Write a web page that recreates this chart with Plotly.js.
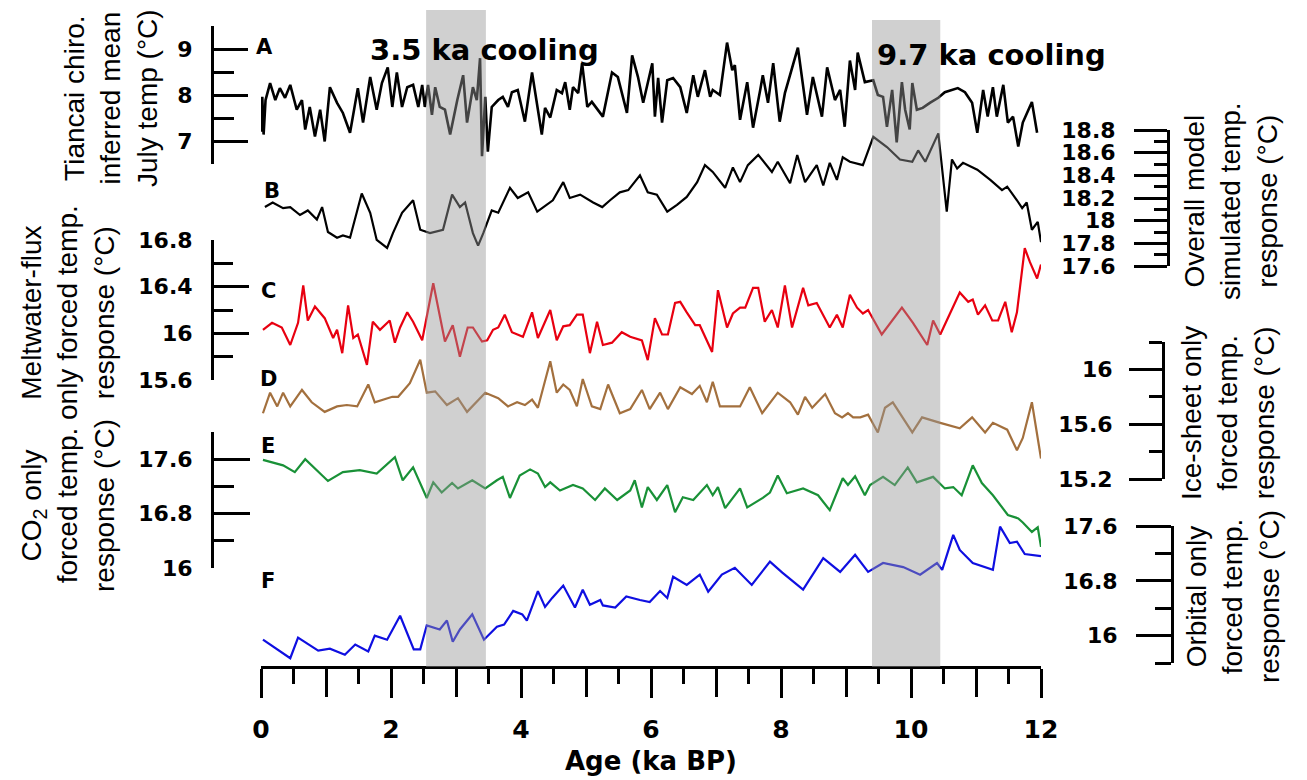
<!DOCTYPE html>
<html><head><meta charset="utf-8">
<script src="https://cdn.plot.ly/plotly-3.0.1.min.js"></script>
<style>html,body{margin:0;padding:0;background:#fff}#chart{width:1307px;height:780px}</style>
</head><body><div id="chart"></div>
<script>
// ---- Data (age in ka BP, temperature in °C) ----
const ageA = [0.00,0.02,0.04,0.07,0.14,0.22,0.29,0.37,0.45,0.55,0.63,0.68,0.75,0.83,0.91,0.98,1.06,1.17,1.26,1.37,1.49,1.57,1.68,1.78,1.86,1.95,2.02,2.09,2.17,2.25,2.34,2.42,2.48,2.52,2.57,2.63,2.68,2.75,2.83,2.91,3.02,3.11,3.17,3.26,3.32,3.37,3.40,3.45,3.49,3.55,3.65,3.72,3.80,3.86,3.95,4.06,4.17,4.25,4.32,4.37,4.45,4.55,4.63,4.68,4.75,4.80,4.88,4.94,5.02,5.09,5.26,5.40,5.49,5.63,5.71,5.80,5.88,6.02,6.06,6.11,6.17,6.25,6.34,6.45,6.55,6.65,6.72,6.83,6.91,6.95,7.06,7.17,7.25,7.29,7.37,7.48,7.57,7.68,7.72,7.80,7.88,7.98,8.06,8.26,8.40,8.49,8.63,8.71,8.83,8.91,8.98,9.06,9.14,9.18,9.29,9.42,9.49,9.57,9.63,9.71,9.78,9.86,9.91,9.98,10.02,10.09,10.18,10.29,10.42,10.52,10.63,10.72,10.83,10.94,11.02,11.11,11.18,11.26,11.32,11.42,11.49,11.57,11.65,11.72,11.86,11.94];
const tempA = [7.20,7.96,7.14,7.89,8.26,7.89,8.15,7.94,8.22,7.68,7.89,7.25,7.74,7.10,7.68,6.99,8.17,7.83,7.61,7.18,8.15,7.40,8.39,7.68,8.26,8.60,7.74,8.49,7.74,8.17,8.22,7.74,8.22,7.74,8.22,7.57,8.17,7.74,7.68,7.14,7.89,8.43,7.40,8.17,7.89,8.80,6.67,7.96,6.77,7.74,7.89,7.96,7.74,8.06,8.11,7.42,8.49,7.74,7.14,7.72,7.51,8.11,8.04,8.28,7.68,8.17,8.04,8.69,7.74,7.85,7.53,8.49,8.39,7.61,8.86,8.39,7.83,8.69,7.53,8.37,7.40,8.32,8.37,8.17,7.61,8.43,7.96,8.54,7.96,8.11,8.00,9.14,8.54,8.65,7.46,8.28,7.29,8.11,8.43,7.83,8.69,7.42,8.04,9.03,7.57,8.39,7.53,8.60,7.89,8.11,7.31,8.75,8.11,8.92,8.28,8.32,8.00,7.96,7.31,8.11,6.97,8.28,7.68,7.25,8.26,7.68,7.72,7.83,7.94,8.06,8.11,8.15,8.06,7.83,7.18,8.11,7.53,8.17,7.53,8.22,7.40,7.53,6.88,7.40,7.85,7.18];

const ageB = [0.06,0.18,0.34,0.45,0.60,0.72,0.86,0.94,1.03,1.17,1.26,1.37,1.55,1.68,1.78,1.94,2.03,2.17,2.34,2.45,2.60,2.80,2.94,3.06,3.14,3.26,3.34,3.42,3.55,3.65,3.83,3.95,4.11,4.25,4.49,4.65,4.75,4.91,5.11,5.25,5.37,5.52,5.65,5.83,5.95,6.09,6.25,6.40,6.55,6.71,6.83,6.95,7.14,7.26,7.37,7.49,7.65,7.86,7.95,8.14,8.25,8.37,8.55,8.65,8.75,8.86,8.95,9.06,9.26,9.42,9.63,9.83,10.02,10.11,10.22,10.42,10.55,10.63,10.71,10.80,11.02,11.22,11.40,11.48,11.63,11.71,11.78,11.86,11.95,12.00];
const tempB = [18.12,18.16,18.11,18.12,18.05,18.09,18.01,18.12,17.90,17.85,17.87,17.85,18.24,18.07,17.83,17.76,17.89,18.07,18.18,17.92,17.89,17.92,18.23,18.12,18.16,17.89,17.78,17.89,18.09,18.07,18.29,18.20,18.25,18.08,18.18,18.34,18.20,18.23,18.16,18.12,18.18,18.25,18.27,18.40,18.25,18.23,18.08,18.14,18.21,18.34,18.49,18.43,18.29,18.47,18.34,18.49,18.58,18.43,18.52,18.33,18.58,18.34,18.49,18.31,18.51,18.36,18.56,18.52,18.49,18.74,18.65,18.54,18.52,18.62,18.52,18.77,18.08,18.54,18.46,18.51,18.45,18.36,18.27,18.30,18.18,18.11,18.16,17.92,17.99,17.81];

const ageC = [0.03,0.17,0.32,0.45,0.57,0.65,0.72,0.83,0.98,1.11,1.17,1.25,1.34,1.42,1.49,1.63,1.72,1.83,1.98,2.06,2.14,2.25,2.34,2.48,2.65,2.83,2.95,3.06,3.18,3.26,3.40,3.48,3.57,3.65,3.75,3.86,4.03,4.17,4.26,4.45,4.55,4.65,4.75,4.86,4.95,5.06,5.17,5.26,5.40,5.55,5.68,5.86,5.95,6.06,6.17,6.26,6.37,6.45,6.55,6.68,6.75,6.94,7.03,7.17,7.26,7.37,7.45,7.57,7.65,7.75,7.86,7.95,8.06,8.17,8.34,8.42,8.55,8.75,8.86,8.95,9.06,9.17,9.26,9.34,9.55,9.86,10.03,10.25,10.34,10.45,10.75,10.88,10.95,11.03,11.14,11.25,11.34,11.45,11.55,11.63,11.75,11.83,11.94,12.00];
const tempC = [16.03,16.09,16.05,15.90,16.09,16.41,16.11,16.23,16.13,15.96,16.03,15.83,16.24,15.96,15.99,15.73,16.10,16.03,16.11,15.92,16.05,16.18,16.10,15.94,16.43,15.93,16.07,15.80,16.05,16.05,15.93,15.94,16.03,16.05,16.16,16.01,15.97,16.18,15.96,16.20,15.94,16.06,16.07,16.16,16.16,15.83,16.10,15.90,15.92,16.01,15.97,15.94,15.77,16.13,15.99,15.99,16.26,16.27,16.18,16.07,16.07,15.84,16.37,16.05,16.17,16.22,16.22,16.39,16.39,16.10,16.20,16.05,16.41,16.05,16.39,16.24,16.26,16.05,16.16,16.05,16.33,16.22,16.17,16.20,15.99,16.22,16.09,15.90,16.11,15.99,16.35,16.27,16.29,16.16,16.24,16.11,16.11,16.27,16.01,16.18,16.73,16.61,16.47,16.59];

const ageD = [0.03,0.14,0.25,0.34,0.45,0.63,0.78,0.98,1.17,1.32,1.48,1.65,1.75,2.02,2.11,2.29,2.45,2.55,2.68,2.86,3.03,3.17,3.45,3.65,3.80,3.94,4.06,4.17,4.26,4.45,4.55,4.65,4.75,4.86,4.95,5.09,5.22,5.34,5.52,5.68,5.86,5.98,6.14,6.26,6.45,6.63,6.75,6.86,6.95,7.06,7.37,7.52,7.71,7.95,8.14,8.26,8.37,8.48,8.68,8.83,8.94,9.03,9.11,9.22,9.34,9.49,9.60,9.72,10.02,10.17,10.45,10.75,10.94,11.14,11.26,11.48,11.63,11.72,11.86,12.00];
const tempD = [15.68,15.83,15.73,15.83,15.73,15.85,15.76,15.69,15.73,15.74,15.73,15.89,15.76,15.80,15.80,15.90,16.07,15.83,15.84,15.74,15.79,15.69,15.83,15.79,15.73,15.76,15.74,15.78,15.72,16.06,15.83,15.89,15.85,15.73,15.93,15.73,15.71,15.89,15.68,15.71,15.85,15.71,15.83,15.71,15.87,15.82,15.88,15.76,15.91,15.73,15.73,15.87,15.68,15.83,15.76,15.67,15.80,15.72,15.82,15.68,15.65,15.68,15.65,15.65,15.67,15.54,15.72,15.76,15.54,15.65,15.61,15.57,15.65,15.54,15.61,15.56,15.41,15.50,15.76,15.35];

const ageE = [0.03,0.34,0.52,0.68,1.03,1.26,1.52,1.78,2.06,2.18,2.34,2.55,2.65,2.78,2.94,3.03,3.25,3.45,3.63,3.72,3.83,3.98,4.14,4.26,4.37,4.45,4.60,4.80,4.95,5.14,5.29,5.48,5.68,5.75,5.86,5.95,6.09,6.25,6.37,6.49,6.65,6.86,6.95,7.03,7.14,7.37,7.48,7.72,7.83,7.95,8.09,8.34,8.57,8.75,8.95,9.03,9.14,9.29,9.37,9.57,9.75,9.95,10.09,10.34,10.52,10.65,10.78,10.95,11.09,11.26,11.49,11.65,11.72,11.86,11.95,12.00];
const tempE = [17.59,17.51,17.41,17.60,17.28,17.41,17.44,17.39,17.63,17.29,17.48,17.03,17.26,17.11,17.25,17.17,17.29,17.17,17.29,17.34,17.03,17.36,17.45,17.39,17.19,17.26,17.14,17.22,17.17,17.00,17.17,17.00,17.14,17.29,16.89,17.19,17.00,17.22,16.82,17.04,17.00,17.22,17.07,17.19,16.88,17.17,16.89,17.03,17.11,17.36,17.10,17.17,17.07,16.85,17.32,17.22,17.35,17.07,17.22,17.34,17.22,17.48,17.26,17.34,17.17,17.19,17.07,17.51,17.25,17.07,16.78,16.73,16.67,16.53,16.60,16.31];

const ageF = [0.03,0.45,0.57,0.88,1.06,1.29,1.45,1.65,1.75,1.94,2.14,2.35,2.45,2.55,2.75,2.86,2.95,3.06,3.25,3.43,3.63,3.74,3.88,4.02,4.09,4.26,4.37,4.48,4.65,4.83,4.95,5.06,5.22,5.26,5.45,5.62,5.83,5.98,6.14,6.25,6.34,6.55,6.75,6.88,7.09,7.29,7.55,7.83,8.02,8.34,8.65,8.91,9.14,9.34,9.57,9.88,10.14,10.40,10.48,10.65,10.75,10.95,11.26,11.37,11.52,11.63,11.75,12.00];
const tempF = [15.94,15.67,15.97,15.78,15.81,15.72,15.87,15.77,16.00,15.94,16.29,15.80,15.80,16.15,16.09,16.22,15.91,16.09,16.31,15.94,16.13,16.16,16.36,16.31,16.22,16.65,16.42,16.55,16.73,16.41,16.67,16.45,16.52,16.44,16.41,16.57,16.52,16.49,16.65,16.55,16.86,16.74,16.89,16.64,16.89,16.99,16.74,17.08,16.92,16.67,17.13,16.93,17.18,16.93,17.06,17.00,16.89,17.06,16.96,17.47,17.25,17.06,16.96,17.59,17.35,17.37,17.19,17.16];

const coolingBands = [{label:'3.5 ka cooling', start:2.54, end:3.46}, {label:'9.7 ka cooling', start:9.40, end:10.45}];
const xTickLabels = ['0','2','4','6','8','10','12'];
const panelLetters = ['A','B','C','D','E','F'];

// ---- Layout helpers (pixel -> paper) ----
const W = 1307, H = 780;
const px = x => x / W;
const py = y => 1 - y / H;

const tickFont = {family:'DejaVu Sans', size:22, weight:'bold', color:'#000'};
function yax(o){
  return Object.assign({anchor:'free', showline:true, linewidth:3, linecolor:'#000',
    tickwidth:3, tickcolor:'#000', showgrid:false, zeroline:false, side:'left',
    tickfont:tickFont, tickmode:'linear', fixedrange:true}, o);
}
const minorTicks = (t0, d, len, dir) => ({tick0:t0, dtick:d, ticks:dir, ticklen:len, tickwidth:3, tickcolor:'#000'});

const xLabelled = xTickLabels.map(Number);                       // 0,2,...,12 (long, labelled)
const xOdd = xLabelled.slice(0, -1).map(v => v + 1);             // 1,3,...,11 (long, unlabelled)
const xHalf = xLabelled.concat(xOdd).sort((a,b)=>a-b).slice(0,-1).map(v => v + 0.5); // short ticks

const traces = [
  {x:ageA, y:tempA, xaxis:'x', yaxis:'y',  mode:'lines', line:{color:'#000', width:2.6}, name:'A'},
  {x:ageB, y:tempB, xaxis:'x', yaxis:'y2', mode:'lines', line:{color:'#000', width:2.2}, name:'B'},
  {x:ageC, y:tempC, xaxis:'x', yaxis:'y3', mode:'lines', line:{color:'rgb(232,0,16)', width:2.2}, name:'C'},
  {x:ageD, y:tempD, xaxis:'x', yaxis:'y4', mode:'lines', line:{color:'rgb(163,112,62)', width:2.2}, name:'D'},
  {x:ageE, y:tempE, xaxis:'x', yaxis:'y5', mode:'lines', line:{color:'rgb(25,145,55)', width:2.2}, name:'E'},
  {x:ageF, y:tempF, xaxis:'x', yaxis:'y6', mode:'lines', line:{color:'rgb(15,15,225)', width:2.2}, name:'F'},
  // empty helper trace so the tick-only overlay axis is drawn
  {x:[], y:[], xaxis:'x2', yaxis:'y6', mode:'lines', hoverinfo:'skip', showlegend:false}
];

const leftPos = px(212);
const xDomain = [px(261), px(1041)];
const layout = {
  width:W, height:H, margin:{l:0,r:0,t:0,b:0,pad:0},
  paper_bgcolor:'#fff', plot_bgcolor:'rgba(0,0,0,0)', showlegend:false,
  font:{family:'Liberation Sans, Arial, sans-serif', color:'#000'},
  xaxis:{domain:xDomain, anchor:'free', position:py(667), range:[0,12],
    showline:true, linewidth:3, linecolor:'#000', ticks:'outside', ticklen:29, tickwidth:3, tickcolor:'#000',
    tickmode:'array', tickvals:xLabelled, ticktext:xTickLabels,
    minor:{tickmode:'array', tickvals:xHalf, ticks:'outside', ticklen:15, tickwidth:3, tickcolor:'#000'},
    tickfont:{family:'DejaVu Sans', size:25, weight:'bold', color:'#000'}, ticklabelstandoff:10,
    showgrid:false, zeroline:false, fixedrange:true},
  xaxis2:{domain:xDomain, anchor:'free', position:py(667), overlaying:'x', range:[0,12],
    showline:false, ticks:'outside', ticklen:29, tickwidth:3, tickcolor:'#000',
    tickmode:'array', tickvals:xOdd, showticklabels:false, showgrid:false, zeroline:false, fixedrange:true},
  // left-hand axes: ticks point right, labels on the left
  yaxis:yax({domain:[py(164), py(26)], range:[6.5,9.5], position:leftPos, ticks:'inside', tick0:7, dtick:1, ticklen:34,
    minor:minorTicks(6.5, 0.5, 20, 'inside'), ticklabelstandoff:14}),
  yaxis3:yax({domain:[py(380), py(240)], range:[15.6,16.8], position:leftPos, ticks:'inside', tick0:15.6, dtick:0.4, ticklen:35,
    minor:minorTicks(15.6, 0.2, 19, 'inside'), ticklabelstandoff:14}),
  yaxis5:yax({domain:[py(568), py(432)], range:[16,18], position:leftPos, ticks:'inside', tick0:16, dtick:0.8, ticklen:36,
    minor:minorTicks(16, 0.4, 20, 'inside'), ticklabelstandoff:14}),
  // right-hand axes: ticks point left, labels left of the ticks
  yaxis2:yax({domain:[py(266), py(130)], range:[17.6,18.8], position:px(1168), ticks:'outside',
    tick0:17.6, dtick:0.2, ticklen:33, minor:minorTicks(17.6, 0.1, 13, 'outside'), ticklabelstandoff:14}),
  yaxis4:yax({domain:[py(479), py(342)], range:[15.2,16.2], position:px(1163), ticks:'outside',
    tick0:15.2, dtick:0.4, ticklen:33, minor:minorTicks(15.2, 0.2, 13, 'outside'), ticklabelstandoff:12}),
  yaxis6:yax({domain:[py(663), py(526)], range:[15.6,17.6], position:px(1172), ticks:'outside',
    tick0:16, dtick:0.8, ticklen:35, minor:minorTicks(15.6, 0.4, 16, 'outside'), ticklabelstandoff:14}),
  shapes: coolingBands.map((b, i) => ({type:'rect', xref:'x', yref:'paper', x0:b.start, x1:b.end,
    y0:py(667), y1:py(i === 0 ? 10 : 20), fillcolor:'rgba(150,150,150,0.45)', line:{width:0}, layer:'above'})),
  annotations: []
};

const ann = layout.annotations;
const boldFont = (s) => ({family:'DejaVu Sans', size:s, weight:'bold', color:'#000'});
// cooling labels
ann.push({xref:'paper', yref:'paper', x:px(484), y:py(50), text:coolingBands[0].label, showarrow:false, font:boldFont(29), xanchor:'center', yanchor:'middle'});
ann.push({xref:'paper', yref:'paper', x:px(992), y:py(55), text:coolingBands[1].label, showarrow:false, font:boldFont(29), xanchor:'center', yanchor:'middle'});
// panel letters
const letterPos = [[264,47],[272,191],[268,291],[268,379],[268,446],[268,581]];
panelLetters.forEach((l, i) => ann.push({xref:'paper', yref:'paper', x:px(letterPos[i][0]), y:py(letterPos[i][1]),
  text:l, showarrow:false, font:boldFont(21), xanchor:'center', yanchor:'middle'}));
// x axis title
ann.push({xref:'paper', yref:'paper', x:px(651), y:py(761), text:'Age (ka BP)', showarrow:false, font:boldFont(26), xanchor:'center', yanchor:'middle'});
// y axis titles
const titleFont = {family:'Liberation Sans, Arial, sans-serif', size:28, color:'#000'};
const yTitles = [
  ['Tiancai chiro.<br>inferred mean<br>July temp (°C)', 111, 98],
  ['Meltwater-flux<br>only forced temp.<br>response (°C)', 68, 313],
  ['CO<sub>2</sub> only<br>forced temp.<br>response (°C)', 68, 506],
  ['Overall model<br>simulated temp.<br>response (°C)', 1231, 201],
  ['Ice-sheet only<br>forced temp.<br>response (°C)', 1228, 413],
  ['Orbital only<br>forced temp.<br>response (°C)', 1233, 597]
];
yTitles.forEach(t => ann.push({xref:'paper', yref:'paper', x:px(t[1]), y:py(t[2]), text:t[0], textangle:-90,
  showarrow:false, font:titleFont, xanchor:'center', yanchor:'middle', align:'center'}));

Plotly.newPlot('chart', traces, layout, {staticPlot:true, displayModeBar:false});
</script>
</body></html>
